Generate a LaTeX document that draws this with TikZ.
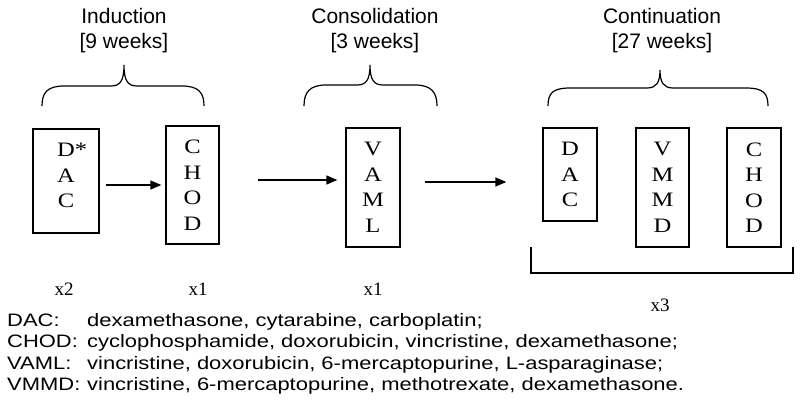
\documentclass[tikz,border=0pt]{standalone}
\usepackage{fontspec}
\setmainfont{Liberation Serif}
\setsansfont{Liberation Sans}
\newfontfamily\wideserif[FakeStretch=1.2]{Liberation Serif}
\newfontfamily\widesans[FakeStretch=1.22]{Liberation Sans}
\usetikzlibrary{arrows.meta, positioning}

\begin{document}
\begin{tikzpicture}[
    x=1pt, y=-1pt,
    regimen/.style={draw, line width=1.3pt, inner sep=0pt, align=center,
        font=\wideserif\fontsize{20.5}{25.5}\selectfont},
    phase/.style={align=center, inner sep=0pt, font=\sffamily\fontsize{21}{25}\selectfont},
    cycles/.style={inner sep=0pt, font=\fontsize{19}{22}\selectfont},
    flow/.style={-{Triangle[length=11pt,width=9pt]}, line width=1.4pt},
    brace/.style={line width=1.2pt},
    key/.style={align=left, inner sep=0pt, font=\widesans\fontsize{18}{21.5}\selectfont}
]
    \useasboundingbox (0,0) rectangle (800,412);

    % Phase headings.
    \node[phase] (induction) at (124,30.5) {Induction\\{}[9 weeks]};
    \node[phase] (consolidation) at (375,30.5) {Consolidation\\{}[3 weeks]};
    \node[phase] (continuation) at (662,30.5) {Continuation\\{}[27 weeks]};

    % Curly brackets under the headings.
    \foreach \xl/\xm/\xr/\ys/\yt in {42/124/204/86/65, 304/370/437/85/65, 548/660/768/88/70}
        \draw[brace] (\xl,106) .. controls (\xl,93) and (\xl+5,\ys) .. (\xl+22,\ys)
            -- (\xm-13,\ys) .. controls (\xm-4,\ys) and (\xm,\ys-5) .. (\xm,\yt)
            .. controls (\xm,\ys-5) and (\xm+4,\ys) .. (\xm+13,\ys)
            -- (\xr-22,\ys) .. controls (\xr-5,\ys) and (\xr,93) .. (\xr,106);

    % Treatment blocks.
    \node[regimen, minimum width=66pt, minimum height=104pt, text depth=11pt] (dac1) at (66,181) {D\rlap{*}\\A\\C};
    \node[regimen, minimum width=53pt, minimum height=118pt] (chod1) at (192.5,185) {C\\H\\O\\D};
    \node[regimen, minimum width=54pt, minimum height=119pt] (vaml) at (373,187.5) {V\\A\\M\\L};
    \node[regimen, minimum width=54pt, minimum height=93pt] (dac2) at (570,174.5) {D\\A\\C};
    \node[regimen, minimum width=53pt, minimum height=119pt] (vmmd) at (662.5,187.5) {V\\M\\M\\D};
    \node[regimen, minimum width=54pt, minimum height=119pt] (chod2) at (754,187.5) {C\\H\\O\\D};

    \draw[flow] ([xshift=6pt,yshift=-4pt]dac1.east) -- ([xshift=-4pt]chod1.west);
    \draw[flow] ([xshift=38pt,yshift=5pt]chod1.east) -- ([xshift=-8pt,yshift=7.5pt]vaml.west);
    \draw[flow] ([xshift=24pt,yshift=5.5pt]vaml.east) -- ([xshift=-36pt,yshift=-7.5pt]dac2.west);

    % Square bracket round the continuation cycle.
    \draw[line width=1.3pt] (531,247) -- (531,273) -- (793,273) -- (793,247);

    % Number of courses.
    \node[cycles, anchor=base] (rep1) at (64,295) {x2};
    \node[cycles, anchor=base] (rep2) at (198,295) {x1};
    \node[cycles, anchor=base] (rep3) at (373,295) {x1};
    \node[cycles, anchor=base] (rep4) at (660,311) {x3};

    % Abbreviations.
    \node[key, anchor=north west] (abbrev) at (7,313) {%
        \makebox[80pt][l]{DAC:}dexamethasone, cytarabine, carboplatin;\\
        \makebox[80pt][l]{CHOD:}cyclophosphamide, doxorubicin, vincristine, dexamethasone;\\
        \makebox[80pt][l]{VAML:}vincristine, doxorubicin, 6-mercaptopurine, L-asparaginase;\\
        \makebox[80pt][l]{VMMD:}vincristine, 6-mercaptopurine, methotrexate, dexamethasone.};
\end{tikzpicture}
\end{document}
